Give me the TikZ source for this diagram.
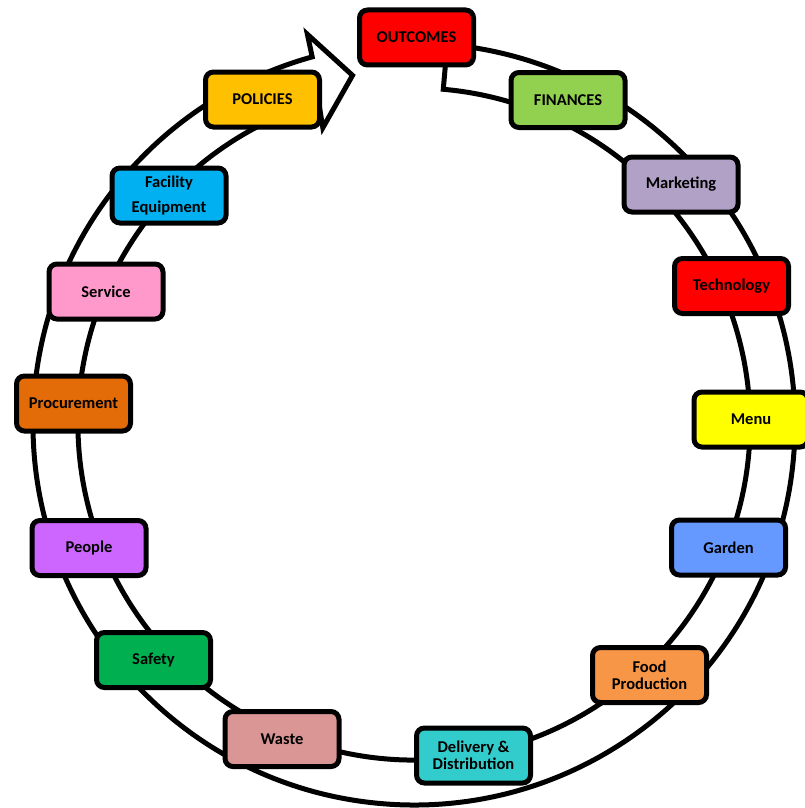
\documentclass[tikz,border=0pt]{standalone}
\usepackage{fontspec}
\setmainfont{Carlito}
\definecolor{cOut}{HTML}{FF0000}
\definecolor{cFin}{HTML}{92D050}
\definecolor{cMkt}{HTML}{B2A1C7}
\definecolor{cTech}{HTML}{FF0000}
\definecolor{cMenu}{HTML}{FFFF00}
\definecolor{cGard}{HTML}{6699FF}
\definecolor{cFood}{HTML}{F79646}
\definecolor{cDel}{HTML}{33CCCC}
\definecolor{cWaste}{HTML}{D99694}
\definecolor{cSafe}{HTML}{00B050}
\definecolor{cPeop}{HTML}{CC66FF}
\definecolor{cProc}{HTML}{E36C09}
\definecolor{cServ}{HTML}{FF99CC}
\definecolor{cFac}{HTML}{00B0F0}
\definecolor{cPol}{HTML}{FFC000}
\begin{document}
\begin{tikzpicture}[x=1pt,y=1pt,
  box/.style={draw=black, line width=5pt, rounded corners=8pt,
    minimum width=114pt, minimum height=55pt, inner sep=0pt,
    align=center, font=\fontsize{16.5}{17}\selectfont\bfseries, text=black},
  band/.style={draw=black, line width=5pt, fill=white, line join=miter}]
\useasboundingbox (0,0) rectangle (805,-808);
\begin{scope}
\clip (0,0) rectangle (805,-808);
\begin{scope}[shift={(414,-424)}]
\draw[band] (85:336) -- (85:381) arc[start angle=85, end angle=-254.5, radius=381]
  -- (-254.7:404) -- (-260:354) -- (-252.9:310) -- (-253.5:336)
  arc[start angle=-253.5, end angle=85, radius=336] -- cycle;
\end{scope}
\node[box, fill=cOut]   (outcomes) at (416.5,-37.5) {OUTCOMES};
\node[box, fill=cFin]   (finances) at (568,-100) {FINANCES};
\node[box, fill=cMkt]   (marketing) at (681,-184.5) {Marketing};
\node[box, fill=cTech]  (technology) at (731.5,-286) {Technology};
\node[box, fill=cMenu]  (menu) at (751,-419.5) {Menu};
\node[box, fill=cGard]  (garden) at (728.5,-547.5) {Garden};
\node[box, fill=cFood]  (food) at (649.5,-675) {Food\\Production};
\node[box, fill=cDel]   (delivery) at (473.5,-755.5) {Delivery \&\\Distribution};
\node[box, fill=cWaste] (waste) at (282,-739) {Waste};
\node[box, fill=cSafe]  (safety) at (153.5,-660) {Safety};
\node[box, fill=cPeop]  (people) at (89,-548) {People};
\node[box, fill=cProc]  (procurement) at (73.5,-403.5) {Procurement};
\node[box, fill=cServ]  (service) at (106,-291.5) {Service};
\node[box, fill=cFac, font=\fontsize{16.5}{25}\selectfont\bfseries] (facility) at (169,-195.5) {Facility\\Equipment};
\node[box, fill=cPol]   (policies) at (262.5,-99.5) {POLICIES};
\end{scope}
\end{tikzpicture}
\end{document}
